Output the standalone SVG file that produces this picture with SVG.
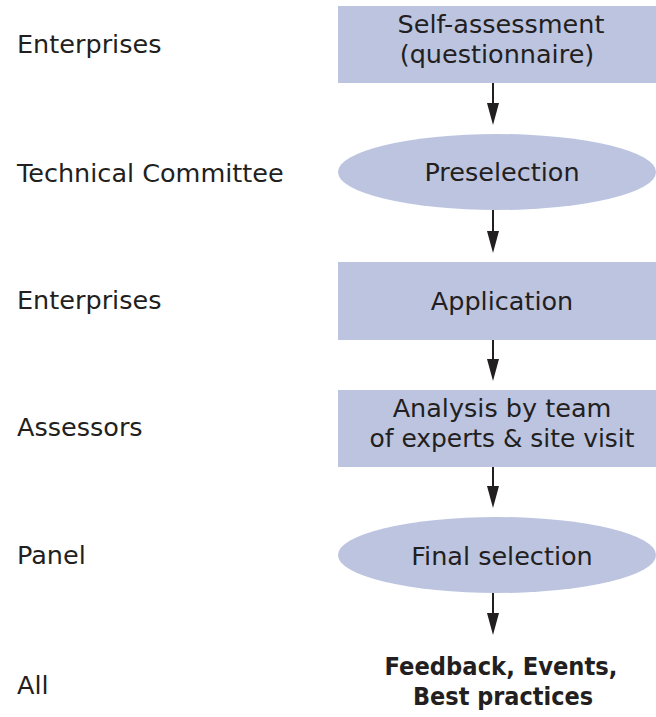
<svg xmlns="http://www.w3.org/2000/svg" width="656" height="717" viewBox="0 0 656 717">
<style>
.lbl{font-family:"DejaVu Sans",sans-serif;font-size:25.5px;fill:#231f20}
.nt{font-family:"DejaVu Sans",sans-serif;font-size:25.5px;fill:#231f20;text-anchor:middle}
.bt{font-family:"DejaVu Sans",sans-serif;font-size:25px;font-weight:bold;fill:#231f20;text-anchor:middle}
.shape{fill:#bcc4e0}
.conn{stroke:#231f20;stroke-width:2;fill:none}
.head{fill:#231f20}
</style>
<g id="labels">
<text class="lbl" x="17" y="53">Enterprises</text>
<text class="lbl" x="17" y="182">Technical Committee</text>
<text class="lbl" x="17" y="309">Enterprises</text>
<text class="lbl" x="17" y="436">Assessors</text>
<text class="lbl" x="17" y="564">Panel</text>
<text class="lbl" x="17" y="694">All</text>
</g>
<g id="n1">
<rect class="shape" x="338" y="6" width="318" height="77"/>
<text class="nt" x="501" y="33">Self-assessment</text>
<text class="nt" x="497" y="63">(questionnaire)</text>
</g>
<g id="n2">
<ellipse class="shape" cx="497" cy="172" rx="159" ry="38"/>
<text class="nt" x="502" y="181">Preselection</text>
</g>
<g id="n3">
<rect class="shape" x="338" y="262" width="318" height="78"/>
<text class="nt" x="502" y="310">Application</text>
</g>
<g id="n4">
<rect class="shape" x="338" y="390" width="318" height="77"/>
<text class="nt" x="502" y="417">Analysis by team</text>
<text class="nt" x="502" y="447" textLength="265" lengthAdjust="spacingAndGlyphs">of experts &amp; site visit</text>
</g>
<g id="n5">
<ellipse class="shape" cx="497" cy="555" rx="159" ry="38"/>
<text class="nt" x="502" y="565">Final selection</text>
</g>
<g id="n6">
<text class="bt" x="501" y="675" textLength="233" lengthAdjust="spacingAndGlyphs">Feedback, Events,</text>
<text class="bt" x="503" y="705" textLength="180" lengthAdjust="spacingAndGlyphs">Best practices</text>
</g>
<g id="connectors">
<path class="conn" d="M493,83 L493,104"/>
<path class="head" d="M487,103 L499,103 L493,125 Z"/>
<path class="conn" d="M493,210 L493,232"/>
<path class="head" d="M487,231 L499,231 L493,253 Z"/>
<path class="conn" d="M493,340 L493,360"/>
<path class="head" d="M487,359 L499,359 L493,381 Z"/>
<path class="conn" d="M493,467 L493,487"/>
<path class="head" d="M487,486 L499,486 L493,508 Z"/>
<path class="conn" d="M493,593 L493,614"/>
<path class="head" d="M487,613 L499,613 L493,635 Z"/>
</g>
</svg>
